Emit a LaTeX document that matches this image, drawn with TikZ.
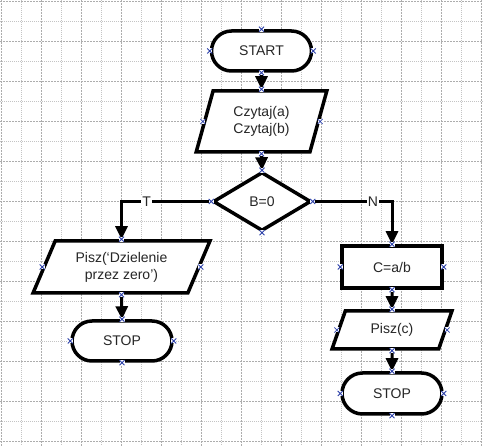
\documentclass[tikz,border=0pt]{standalone}
\usepackage{fontspec}
\setmainfont{Liberation Sans}
\usepackage{tikz}
\usetikzlibrary{shapes.geometric,shapes.misc,arrows.meta,positioning}
\definecolor{gridMajor}{HTML}{ADADAD}
\definecolor{gridMinor}{HTML}{C4C4C4}
\definecolor{handleBlue}{HTML}{2B3FA8}

\begin{document}
\begin{tikzpicture}[
  x=1pt,y=-1pt,
  font=\fontsize{14}{17}\selectfont,
  box/.style={draw=black,line width=3.5pt,fill=white,text=black!85,align=center,inner sep=0pt},
  term/.style={box,rounded rectangle,minimum width=100pt,minimum height=40pt},
  io/.style={box,trapezium,trapezium stretches=true},
  proc/.style={box,rectangle,minimum width=100pt,minimum height=42pt},
  cond/.style={box,diamond,minimum width=98pt,minimum height=59pt},
  arr/.style={-{Triangle[length=13pt,width=12pt]},line width=3pt},
  lbl/.style={fill=white,inner sep=1pt,text=black!85},
  handle/.style={handleBlue,line width=0.8pt}
]
\useasboundingbox[fill=white] (0,0) rectangle (483,446);

% ---- background grid ----
\foreach \k in {0,...,24}{
  \pgfmathtruncatemacro{\odd}{mod(\k,2)}
  \ifnum\odd=0
    \draw[gridMajor,line width=0.6pt,dash pattern=on 2pt off 1pt] (1+20*\k,0) -- (1+20*\k,446);
  \else
    \draw[gridMinor,line width=0.6pt,dash pattern=on 1pt off 1pt] (1+20*\k,0) -- (1+20*\k,446);
  \fi
}
\foreach \k in {0,...,22}{
  \pgfmathtruncatemacro{\odd}{mod(\k,2)}
  \ifnum\odd=0
    \draw[gridMajor,line width=0.6pt,dash pattern=on 2pt off 1pt] (0,1+20*\k) -- (483,1+20*\k);
  \else
    \draw[gridMinor,line width=0.6pt,dash pattern=on 1pt off 1pt] (0,1+20*\k) -- (483,1+20*\k);
  \fi
}

% ---- main column ----
\node[term] (start) at (261.5,51) {START};
\node[io,minimum width=131pt,minimum height=61pt,trapezium left angle=72,trapezium right angle=108]
  (read) at (261.5,121.5) {Czytaj(a)\\Czytaj(b)};
\node[cond] (test) at (262,201.5) {B=0};

% ---- branch T ----
\node[io,minimum width=177pt,minimum height=52pt,trapezium left angle=63,trapezium right angle=117]
  (err) at (121.5,267) {Pisz(‘Dzielenie\\przez zero’)};
\node[term] (stopa) at (122,341) {STOP};

% ---- branch N ----
\node[proc] (calc) at (392,267) {C=a/b};
\node[io,minimum width=120pt,minimum height=38pt,trapezium left angle=65,trapezium right angle=115]
  (out) at (392,330) {Pisz(c)};
\node[term,minimum height=41pt] (stopb) at (392,393.5) {STOP};

% ---- flow arrows ----
\draw[arr] (start.south) -- (read.north);
\draw[arr] (read.south) -- (test.north);
\draw[arr] (test.west) -| node[lbl,pos=0.36] {T} (err.north);
\draw[arr] (test.east) -| node[lbl,pos=0.38] {N} (calc.north);
\draw[arr] (err.south) -- (stopa.north);
\draw[arr] (calc.south) -- (out.north);
\draw[arr] (out.south) -- (stopb.north);

% ---- selection handles ----
\foreach \n in {start,read,test,err,stopa,calc,out,stopb}
  \foreach \a in {north,south,east,west}{
    \fill[white] (\n.\a) ++(-2.5,-2.5) rectangle ++(5,5);
    \draw[handle] (\n.\a) ++(-2.5,-2.5) -- ++(5,5) ++(-5,0) -- ++(5,-5);
  }
\end{tikzpicture}
\end{document}
